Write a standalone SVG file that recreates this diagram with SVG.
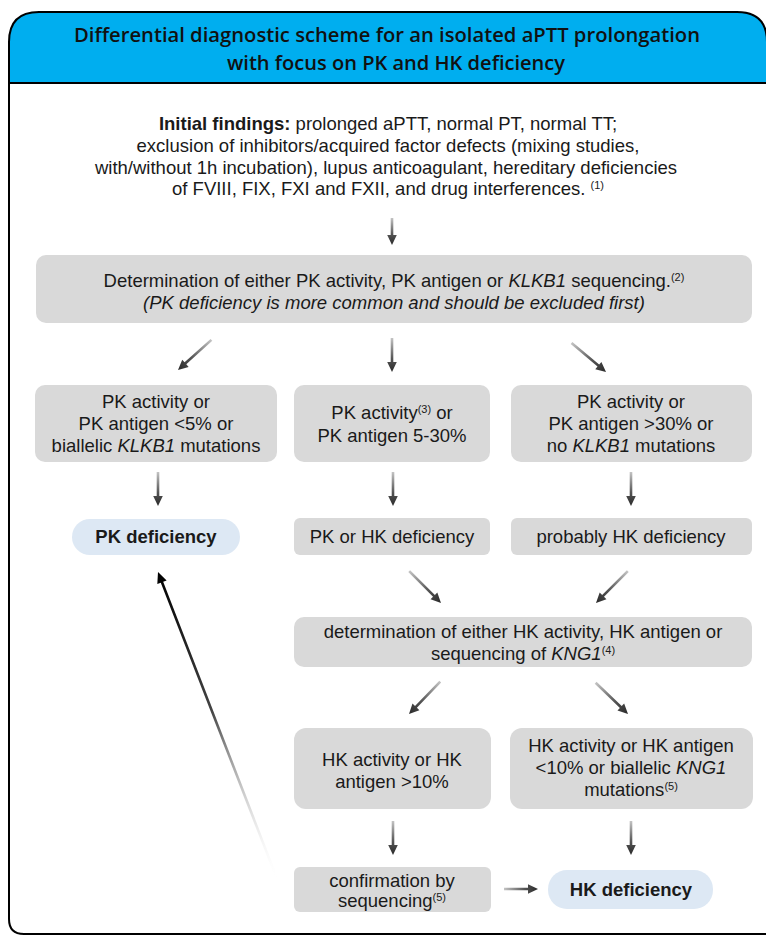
<svg xmlns="http://www.w3.org/2000/svg" width="766" height="936" viewBox="0 0 766 936">
<style>
.t{font-family:"Liberation Sans",Arial,sans-serif;font-size:18.5px;fill:#1a1a1a;text-anchor:middle}
.b{font-weight:bold}
.i{font-style:italic}
.sup{font-size:11px}
.box{fill:#d9d9d9}
.pill{fill:#dde8f4}
.title{font-family:"Open Sans","Liberation Sans",sans-serif;font-weight:600;font-size:20px;fill:#111;text-anchor:middle}
</style>
<defs>
<linearGradient id="ag" x1="0" y1="0" x2="0" y2="1">
<stop offset="0" stop-color="#c4c4c4"/>
<stop offset="0.6" stop-color="#555"/>
<stop offset="1" stop-color="#2a2a2a"/>
</linearGradient>
<linearGradient id="lg" x1="0" y1="0" x2="0" y2="1">
<stop offset="0" stop-color="#ffffff" stop-opacity="0"/>
<stop offset="0.55" stop-color="#444"/>
<stop offset="1" stop-color="#000"/>
</linearGradient>
<path id="a27" d="M-1.3,-27 H1.3 V-10 H4.8 L0,0 L-4.8,-10 H-1.3 Z"/>
<path id="a34" d="M-1.3,-34 H1.3 V-10 H4.8 L0,0 L-4.8,-10 H-1.3 Z"/>
<path id="a45" d="M-1.3,-45 H1.3 V-10 H4.8 L0,0 L-4.8,-10 H-1.3 Z"/>
</defs>

<g id="frame">
<path d="M9,83 V42 Q9,12 39,12 H737 Q767,12 767,42 V83 Z" fill="#00aeef"/>
<path d="M9,42 Q9,12 39,12 H737 Q767,12 767,42 V934 H24 Q9,934 9,919 Z" fill="none" stroke="#000" stroke-width="2"/>
<line x1="9" y1="83" x2="767" y2="83" stroke="#000" stroke-width="2"/>
<text class="title" x="387" y="42" textLength="626" lengthAdjust="spacingAndGlyphs">Differential diagnostic scheme for an isolated aPTT prolongation</text>
<text class="title" x="396" y="70" textLength="338" lengthAdjust="spacingAndGlyphs">with focus on PK and HK deficiency</text>
</g>

<g id="initial">
<text class="t" x="388" y="130"><tspan class="b">Initial findings:</tspan> prolonged aPTT, normal PT, normal TT;</text>
<text class="t" x="388" y="152">exclusion of inhibitors/acquired factor defects (mixing studies,</text>
<text class="t" x="386" y="174">with/without 1h incubation), lupus anticoagulant, hereditary deficiencies</text>
<text class="t" x="388" y="195">of FVIII, FIX, FXI and FXII, and drug interferences. <tspan class="sup" baseline-shift="super">(1)</tspan></text>
</g>

<g id="pk-determination">
<rect class="box" x="36" y="255" width="716" height="68" rx="10"/>
<text class="t" x="394" y="287">Determination of either PK activity, PK antigen or <tspan class="i">KLKB1</tspan> sequencing.<tspan class="sup" baseline-shift="super">(2)</tspan></text>
<text class="t i" x="394" y="309">(PK deficiency is more common and should be excluded first)</text>
</g>

<g id="pk-low">
<rect class="box" x="35" y="385" width="242" height="77" rx="10"/>
<text class="t" x="156" y="408">PK activity or</text>
<text class="t" x="156" y="430">PK antigen &lt;5% or</text>
<text class="t" x="156" y="452">biallelic <tspan class="i">KLKB1</tspan> mutations</text>
</g>

<g id="pk-mid">
<rect class="box" x="294" y="385" width="196" height="77" rx="10"/>
<text class="t" x="392" y="419">PK activity<tspan class="sup" baseline-shift="super">(3)</tspan> or</text>
<text class="t" x="392" y="442">PK antigen 5-30%</text>
</g>

<g id="pk-high">
<rect class="box" x="511" y="385" width="241" height="77" rx="10"/>
<text class="t" x="631" y="408">PK activity or</text>
<text class="t" x="631" y="430">PK antigen &gt;30% or</text>
<text class="t" x="631" y="452">no <tspan class="i">KLKB1</tspan> mutations</text>
</g>

<g id="pk-deficiency">
<rect class="pill" x="72" y="519" width="168" height="36" rx="18"/>
<text class="t b" x="156" y="543">PK deficiency</text>
</g>

<g id="pk-or-hk">
<rect class="box" x="294" y="518" width="196" height="37" rx="6"/>
<text class="t" x="392" y="543">PK or HK deficiency</text>
</g>

<g id="probably-hk">
<rect class="box" x="511" y="518" width="241" height="37" rx="6"/>
<text class="t" x="631" y="543">probably HK deficiency</text>
</g>

<g id="hk-determination">
<rect class="box" x="294" y="617" width="458" height="50" rx="10"/>
<text class="t" x="523" y="638">determination of either HK activity, HK antigen or</text>
<text class="t" x="523" y="660">sequencing of <tspan class="i">KNG1</tspan><tspan class="sup" baseline-shift="super">(4)</tspan></text>
</g>

<g id="hk-high">
<rect class="box" x="294" y="728" width="197" height="81" rx="12"/>
<text class="t" x="392" y="766">HK activity or HK</text>
<text class="t" x="392" y="788">antigen &gt;10%</text>
</g>

<g id="hk-low">
<rect class="box" x="510" y="728" width="243" height="81" rx="12"/>
<text class="t" x="631" y="752">HK activity or HK antigen</text>
<text class="t" x="631" y="774">&lt;10% or biallelic <tspan class="i">KNG1</tspan></text>
<text class="t" x="631" y="796">mutations<tspan class="sup" baseline-shift="super">(5)</tspan></text>
</g>

<g id="confirmation">
<rect class="box" x="294" y="867" width="197" height="45" rx="6"/>
<text class="t" x="392" y="887">confirmation by</text>
<text class="t" x="392" y="907">sequencing<tspan class="sup" baseline-shift="super">(5)</tspan></text>
</g>

<g id="hk-deficiency">
<rect class="pill" x="548" y="870" width="165" height="39" rx="19"/>
<text class="t b" x="631" y="896">HK deficiency</text>
</g>

<g id="connectors" fill="url(#ag)">
<use href="#a27" transform="translate(392,245)"/>
<use href="#a45" transform="translate(178,370) rotate(48)"/>
<use href="#a34" transform="translate(392,372)"/>
<use href="#a45" transform="translate(606,372) rotate(-50)"/>
<use href="#a34" transform="translate(158,506)"/>
<use href="#a34" transform="translate(393,506)"/>
<use href="#a34" transform="translate(631,506)"/>
<use href="#a45" transform="translate(441,603) rotate(-45)"/>
<use href="#a45" transform="translate(596,603) rotate(45)"/>
<use href="#a45" transform="translate(409,714) rotate(44)"/>
<use href="#a45" transform="translate(628,714) rotate(-46)"/>
<use href="#a34" transform="translate(393,855)"/>
<use href="#a34" transform="translate(631,855)"/>
<use href="#a34" transform="translate(538,889) rotate(-90)"/>
<path d="M-1.3,-332 H1.3 V-11 H5 L0,0 L-5,-11 H-1.3 Z" fill="url(#lg)" transform="translate(158,572) rotate(158.8)"/>
</g>
</svg>
